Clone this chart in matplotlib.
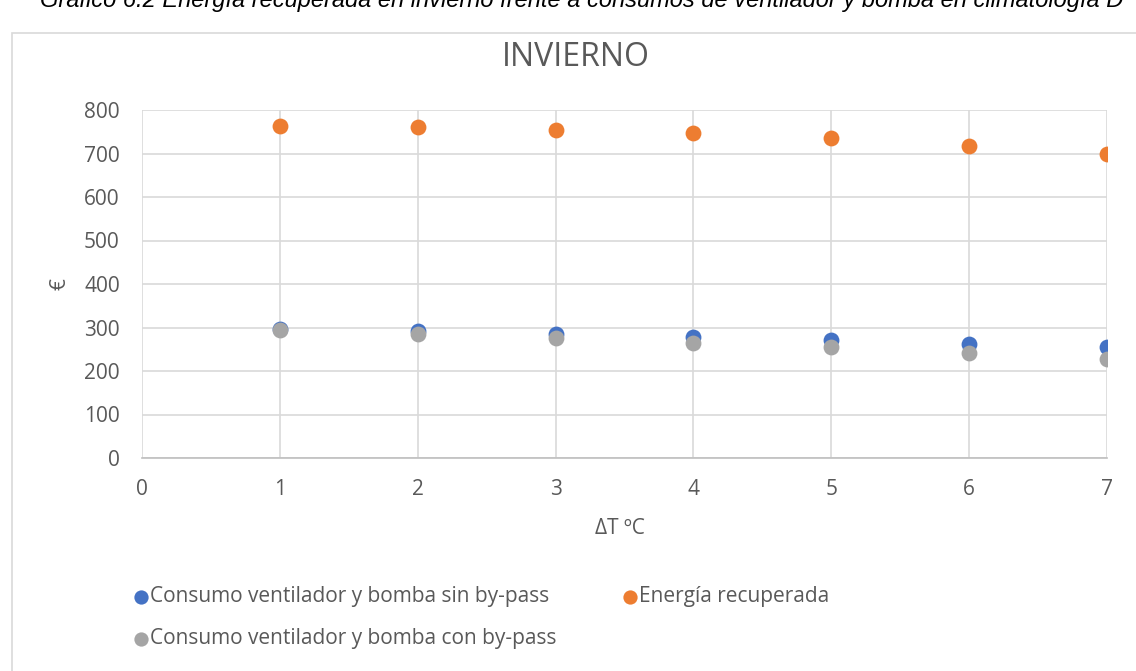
import matplotlib.pyplot as plt
from matplotlib.patches import Rectangle

plt.rcParams['font.family'] = ['Open Sans', 'DejaVu Sans']

dt = [1, 2, 3, 4, 5, 6, 7]
sin_bypass = [297, 292, 285, 278, 271, 262, 255]
recuperada = [763, 760, 754, 746, 735, 718, 700]
con_bypass = [294, 285, 276, 264, 255, 241, 228]

txt = "#595959"
grid = "#d9d9d9"

fig = plt.figure(figsize=(11.36, 6.71), dpi=100)
ax = fig.add_axes([142 / 1136, 1 - 458 / 671, (1107 - 142) / 1136, (458 - 110) / 671])

# chart area border (partly outside the picture)
fig.patches.append(Rectangle((12 / 1136, -0.05), 1.0, 1 - 33 / 671 + 0.05,
                             transform=fig.transFigure, fill=False,
                             edgecolor=grid, lw=1.2))

# caption above the chart, cut by the top edge as in the original
fig.text(40 / 1136, 1 - 1 / 671, "Gráfico 6.2 Energía recuperada en invierno frente a consumos de "
         "ventilador y bomba en climatología D", family="Liberation Sans",
         style="italic", fontsize=17, color="black", va="center", ha="left")

s = 130
ax.scatter(dt, sin_bypass, s=s, color="#4472c4", label="Consumo ventilador y bomba sin by-pass",
           zorder=3, lw=0)
ax.scatter(dt, con_bypass, s=s, color="#a5a5a5", label="Consumo ventilador y bomba con by-pass",
           zorder=4, lw=0)
ax.scatter(dt, recuperada, s=s, color="#ed7d31", label="Energía recuperada", zorder=3, lw=0)

ax.set_xlim(0, 7)
ax.set_ylim(0, 800)
ax.set_xticks(range(0, 8))
ax.set_yticks(range(0, 801, 100))
ax.grid(True, color=grid, lw=1.2)
ax.set_axisbelow(True)
for side in ["top", "right", "left"]:
    ax.spines[side].set_visible(False)
ax.spines["bottom"].set_color("#bfbfbf")
ax.spines["bottom"].set_linewidth(1.2)
ax.tick_params(length=0, labelsize=15, labelcolor=txt)
ax.tick_params(axis="x", pad=15)
ax.tick_params(axis="y", pad=16)

fig.text(576 / 1136, 1 - 57 / 671, "INVIERNO", fontsize=23, color=txt, ha="center", va="center")
fig.text(620 / 1136, 1 - 528 / 671, "ΔT ºC", fontsize=15, color=txt, ha="center", va="center")
fig.text(60 / 1136, 1 - 284 / 671, "€", fontsize=15, color=txt, ha="center", va="center",
         rotation=90)

fig.legend(loc="upper left", bbox_to_anchor=(135 / 1136, 1 - 586 / 671), ncol=2,
           frameon=False, fontsize=15, labelcolor=txt, handletextpad=0.13, handlelength=0.6,
           columnspacing=3.2, labelspacing=1.02, markerscale=0.9,
           borderpad=0, borderaxespad=0)

fig.savefig("out.png", dpi=100)
